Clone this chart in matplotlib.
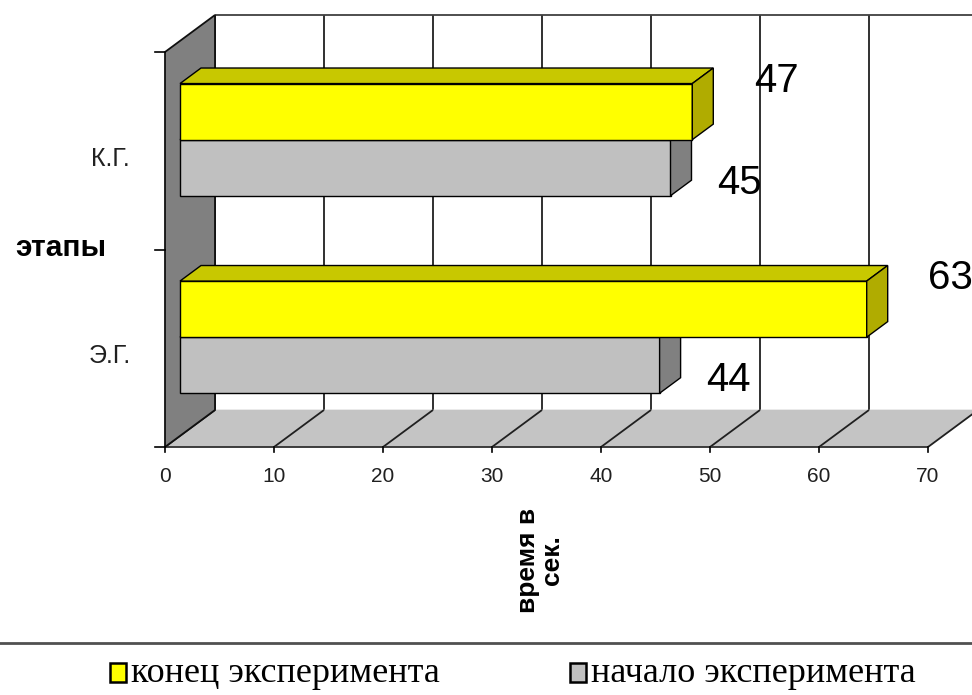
import matplotlib.pyplot as plt
from matplotlib.patches import Polygon, Rectangle

# данные: этапы и время (сек.)
categories = ['Э.Г.', 'К.Г.']
series_names = ['конец эксперимента', 'начало эксперимента']
end_values = [63, 47]     # конец эксперимента
start_values = [44, 45]   # начало эксперимента
x_ticks = [0, 10, 20, 30, 40, 50, 60, 70]

YELLOW = ('#FFFF00', '#C8C800', '#B0AC00')   # front, top, side
GREY = ('#C0C0C0', '#A0A0A0', '#808080')

W, H = 972, 695
fig = plt.figure(figsize=(W / 100, H / 100), dpi=100)
ax = fig.add_axes([0, 0, 1, 1])
ax.axis('off')

# pixel layout of the pseudo-3D box
X0, Y0 = 165, 447          # origin (value 0, bottom of floor, front)
PX_UNIT = 10.9             # px per second
PX_CAT = 197.5             # px per category
DEPTH_PX = (50, 37)        # offset of the back plane

ax.set_xlim(-X0 / PX_UNIT, (W - X0) / PX_UNIT)
ax.set_ylim(-(H - Y0) / PX_CAT, Y0 / PX_CAT)

DX = DEPTH_PX[0] / PX_UNIT
DY = DEPTH_PX[1] / PX_CAT


def P(v, y, d):
    return (v + d * DX, y + d * DY)


def poly(pts, fc, ec='black', lw=1.0, z=1):
    ax.add_patch(Polygon(pts, closed=True, facecolor=fc, edgecolor=ec,
                         linewidth=lw, zorder=z))


def line(a, b, c='black', lw=1.0, z=1):
    ax.plot([a[0], b[0]], [a[1], b[1]], color=c, linewidth=lw, zorder=z,
            solid_capstyle='butt')


vmax = x_ticks[-1]
ncat = len(categories)

# back wall grid
for t in x_ticks:
    line(P(t, 0, 1), P(t, ncat, 1), c='#202020', lw=1.3, z=1)
line(P(0, ncat, 1), P(vmax, ncat, 1), c='#404040', lw=1.3, z=1)

# floor
poly([P(0, 0, 0), P(vmax, 0, 0), P(vmax, 0, 1), P(0, 0, 1)],
     '#C4C4C4', ec='#C4C4C4', lw=0.5, z=2)
for t in x_ticks:
    line(P(t, 0, 0), P(t, 0, 1), c='#202020', lw=1.3, z=2)
line(P(0, 0, 0), P(vmax, 0, 0), c='#303030', lw=1.3, z=3)

# left wall
poly([P(0, 0, 0), P(0, ncat, 0), P(0, ncat, 1), P(0, 0, 1)],
     '#808080', ec='#101010', lw=1.3, z=3)

# ticks
for t in x_ticks:
    x, y = P(t, 0, 0)
    ax.plot([x, x], [y, y - 5 / PX_CAT], color='black', lw=1.2, zorder=3)
    ax.text(x, y - 30 / PX_CAT, str(t), ha='center', va='center',
            fontsize=15, family='Liberation Sans', color='#202020')
for j in range(ncat + 1):
    x, y = P(0, j, 0)
    ax.plot([x - 10 / PX_UNIT, x], [y, y], color='black', lw=1.2, zorder=3)

# bars
D0, D1 = 0.3, 0.72
HALF = 0.284


def bar3d(v, y0, y1, colors, z):
    front, top, side = colors
    poly([P(0, y0, D0), P(v, y0, D0), P(v, y1, D0), P(0, y1, D0)], front, z=z)
    poly([P(0, y1, D0), P(v, y1, D0), P(v, y1, D1), P(0, y1, D1)], top, z=z)
    poly([P(v, y0, D0), P(v, y0, D1), P(v, y1, D1), P(v, y1, D0)], side, z=z)


for i, cat in enumerate(categories):
    c = i + 0.5
    z = 10 + 2 * (ncat - i)
    bar3d(start_values[i], c - HALF, c, GREY, z)
    bar3d(end_values[i], c, c + HALF, YELLOW, z + 1)

    # value labels
    xe, ye = P(end_values[i], c + HALF, D0)
    ax.text(xe + 84 / PX_UNIT, ye + 3 / PX_CAT, str(end_values[i]),
            ha='center', va='center', fontsize=29, family='Liberation Sans',
            zorder=30)
    xs, ys = P(start_values[i], c - HALF / 2, D0)
    ax.text(xs + 69 / PX_UNIT, ys - 15 / PX_CAT, str(start_values[i]),
            ha='center', va='center', fontsize=29, family='Liberation Sans',
            zorder=30)

    # category labels
    ax.text(-55 / PX_UNIT, c - 0.04, cat, ha='center', va='center',
            fontsize=18, family='Liberation Sans', color='#202020')

# axis titles
ax.text(-104 / PX_UNIT, 1.01, 'этапы', ha='center', va='center',
        fontsize=21.5, fontweight='bold', family='Liberation Sans')
ax.text(375 / PX_UNIT, -113 / PX_CAT, 'время в\nсек.', ha='center',
        va='center', rotation=90, fontsize=19, fontweight='bold',
        family='Liberation Sans', linespacing=1.0)

# separator line and legend
ax.plot([-X0 / PX_UNIT, (W - X0) / PX_UNIT], [-196 / PX_CAT] * 2,
        color='#505050', lw=2, zorder=5)
legend_items = [(YELLOW[0], series_names[0], 110),
                (GREY[0], series_names[1], 570)]
for color, name, px in legend_items:
    fig.patches.append(Rectangle((px / W, 1 - 682 / H), 16 / W, 19 / H,
                                 transform=fig.transFigure, facecolor=color,
                                 edgecolor='black', linewidth=1.8))
    fig.text((px + 21) / W, 1 - 673 / H, name, ha='left', va='center',
             fontsize=26, family='Liberation Serif')

fig.savefig('out.png', dpi=100)
